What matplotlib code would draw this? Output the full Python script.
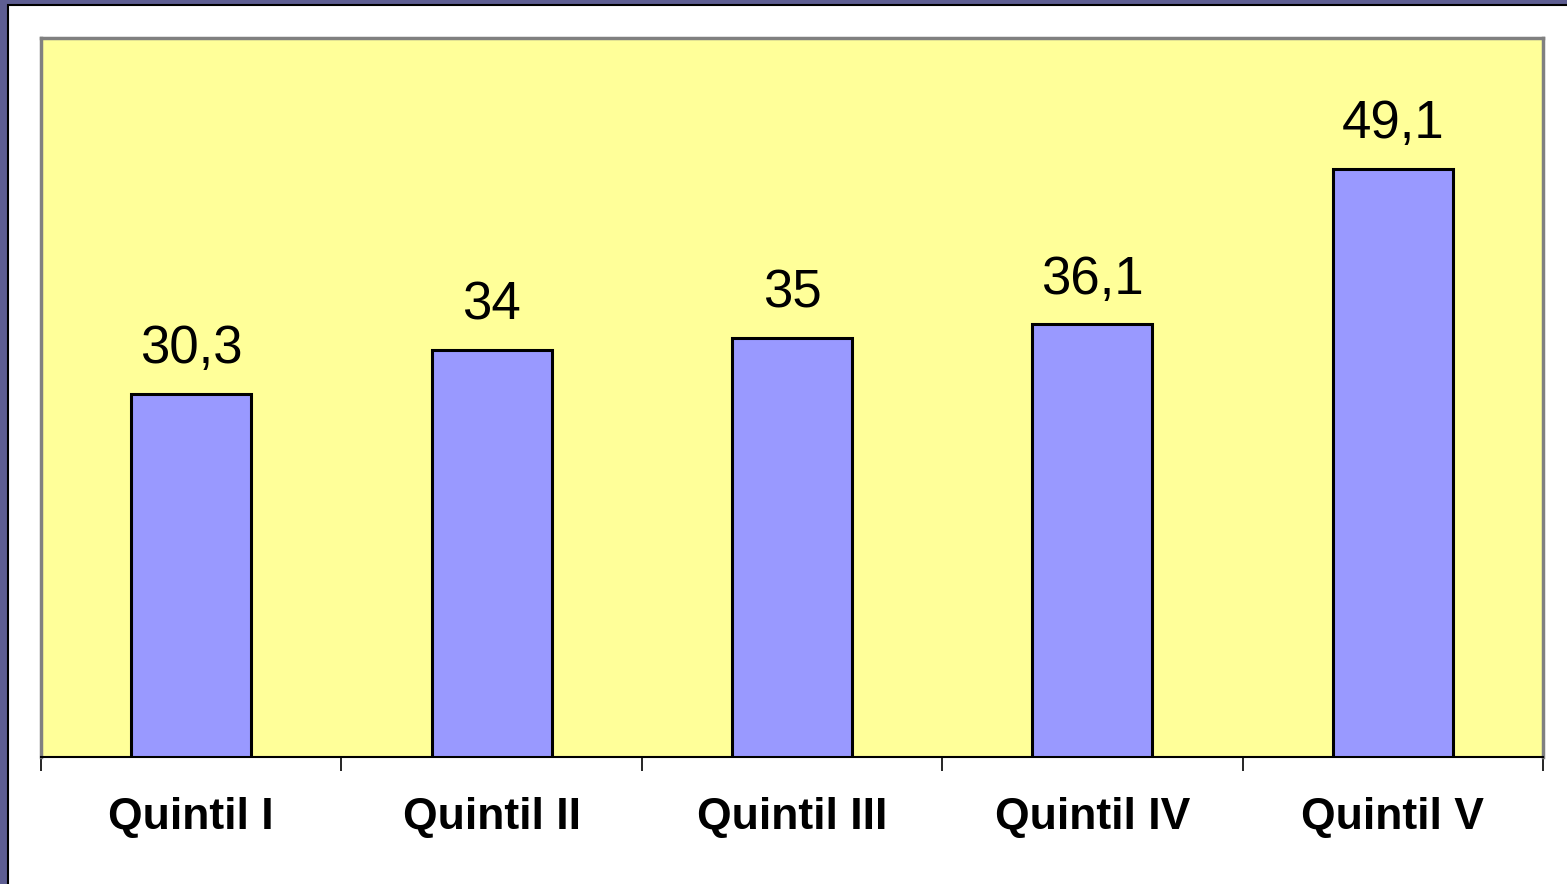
import numpy as np
import matplotlib.pyplot as plt
from matplotlib.patches import Rectangle

categories = ["Quintil I", "Quintil II", "Quintil III", "Quintil IV", "Quintil V"]
values = [30.3, 34, 35, 36.1, 49.1]
value_labels = ["30,3", "34", "35", "36,1", "49,1"]

plt.rcParams['font.family'] = ['Liberation Sans', 'DejaVu Sans']

fig = plt.figure(figsize=(15.67, 8.84), dpi=100)
fig.patch.set_facecolor('#5E5E92')

# white slide area with thin black edge (left and top only visible)
W, H = 1567.0, 884.0
slide = Rectangle((8 / W, -0.05), 1.1, 1.05 - 5 / H, transform=fig.transFigure,
                  facecolor='white', edgecolor='black', linewidth=1.5, zorder=-10)
fig.add_artist(slide)

ax = fig.add_axes([41 / W, 127 / H, 1502 / W, 719 / H])
ax.set_zorder(1)
ax.set_facecolor('#FFFF99')

x = np.arange(len(categories))
ax.bar(x, values, width=0.4, color='#9999FF', edgecolor='black', linewidth=2.2, zorder=3)

for xi, v, lab in zip(x, values, value_labels):
    ax.annotate(lab, (xi, v), xytext=(0, 14), textcoords='offset points',
                ha='center', va='bottom', fontsize=38, color='black')

ax.set_xlim(-0.5, len(categories) - 0.5)
ax.set_ylim(0, 60)

ax.set_xticks(x)
ax.set_xticklabels(categories, fontsize=32, fontweight='bold')
ax.tick_params(axis='x', which='major', length=0, pad=29)
ax.set_xticks(np.arange(len(categories) + 1) - 0.5, minor=True)
ax.tick_params(axis='x', which='minor', length=10, width=1.2, color='black')
ax.set_yticks([])

for side in ['left', 'top', 'right']:
    ax.spines[side].set_color('#808080')
    ax.spines[side].set_linewidth(2.5)
ax.spines['bottom'].set_color('black')
ax.spines['bottom'].set_linewidth(1.5)

fig.savefig('out.png', dpi=100, facecolor=fig.get_facecolor())
